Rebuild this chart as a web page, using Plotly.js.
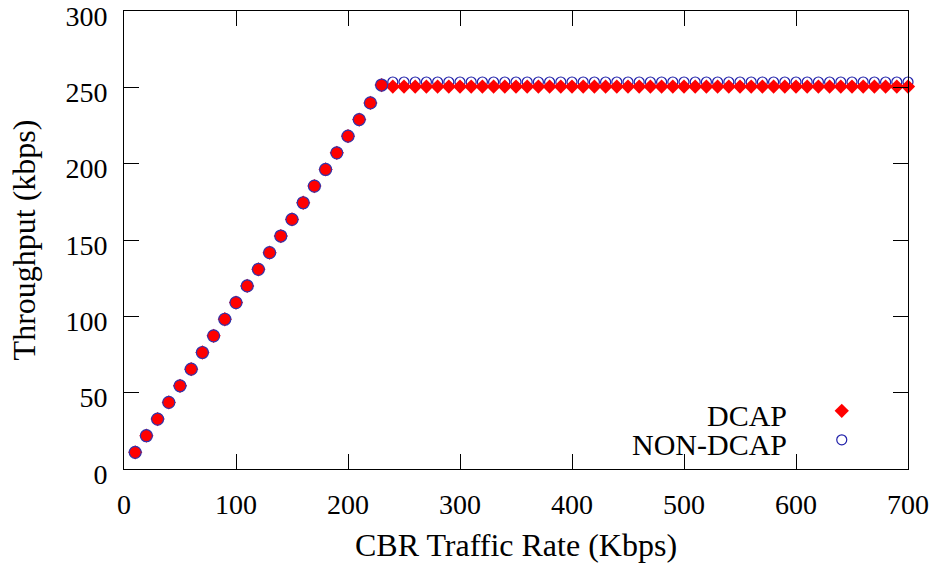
<!DOCTYPE html>
<html>
<head>
<meta charset="utf-8">
<script src="https://cdn.plot.ly/plotly-3.0.1.min.js"></script>
<style>html,body{margin:0;padding:0;background:#fff;}#chart{width:936px;height:565px;}</style>
</head>
<body>
<div id="chart"></div>
<script>
// CBR traffic rate (Kbps)
const rate = [10,20,30,40,50,60,70,80,90,100,110,120,130,140,150,160,170,180,190,200,210,220,230,
  240,250,260,270,280,290,300,310,320,330,340,350,360,370,380,390,400,410,420,430,440,450,460,470,
  480,490,500,510,520,530,540,550,560,570,580,590,600,610,620,630,640,650,660,670,680,690,700];
// Throughput (kbps)
const dcap = [10.9,21.8,32.7,43.6,54.5,65.4,76.3,87.2,98.1,109.0,119.9,130.8,141.7,152.6,163.5,174.4,185.3,196.2,207.1,218.0,228.9,239.8,251.5,
  250.5,250.5,250.5,250.5,250.5,250.5,250.5,250.5,250.5,250.5,250.5,250.5,250.5,250.5,250.5,250.5,250.5,250.5,250.5,250.5,250.5,250.5,250.5,250.5,
  250.5,250.5,250.5,250.5,250.5,250.5,250.5,250.5,250.5,250.5,250.5,250.5,250.5,250.5,250.5,250.5,250.5,250.5,250.5,250.5,250.5,250.5,250.5];
const nonDcap = [10.9,21.8,32.7,43.6,54.5,65.4,76.3,87.2,98.1,109.0,119.9,130.8,141.7,152.6,163.5,174.4,185.3,196.2,207.1,218.0,228.9,239.8,251.5,
  253.5,253.5,253.5,253.5,253.5,253.5,253.5,253.5,253.5,253.5,253.5,253.5,253.5,253.5,253.5,253.5,253.5,253.5,253.5,253.5,253.5,253.5,253.5,253.5,
  253.5,253.5,253.5,253.5,253.5,253.5,253.5,253.5,253.5,253.5,253.5,253.5,253.5,253.5,253.5,253.5,253.5,253.5,253.5,253.5,253.5,253.5,253.5];
const seriesNames = ['DCAP', 'NON-DCAP'];
const xTicks = [0,100,200,300,400,500,600,700];
const yTicks = [0,50,100,150,200,250,300];

// points where both series coincide (drawn as a combined marker)
const sameX = [], sameY = [];
rate.forEach((r, i) => { if (dcap[i] === nonDcap[i]) { sameX.push(r); sameY.push(dcap[i]); } });

const FONT = "'Liberation Serif', 'Times New Roman', serif";

const traces = [
  { x: rate, y: nonDcap, type: 'scatter', mode: 'markers', name: ' ', cliponaxis: false,
    marker: { symbol: 'circle-open', size: 10, color: '#2222aa', line: { width: 1.2, color: '#2222aa' } } },
  { x: rate, y: dcap, type: 'scatter', mode: 'markers', name: ' ', cliponaxis: false,
    marker: { symbol: 'diamond', size: 11, color: '#ff0000', line: { width: 0 } } },
  { x: sameX, y: sameY, type: 'scatter', mode: 'markers', showlegend: false, cliponaxis: false,
    marker: { symbol: 'circle', size: 12, color: '#ff0000', line: { width: 1.2, color: '#3333aa' } } }
];

const axisCommon = {
  showgrid: false, zeroline: false, showline: true, linecolor: '#000', linewidth: 1,
  mirror: 'allticks', ticks: 'inside', ticklen: 15, tickwidth: 1, tickcolor: '#000',
  ticklabeloverflow: 'allow',
  tickfont: { family: FONT, size: 28, color: '#000' }
};

const layout = {
  width: 936, height: 565,
  margin: { l: 124, r: 28, t: 11, b: 96 },
  paper_bgcolor: '#fff', plot_bgcolor: '#fff',
  font: { family: FONT, color: '#000' },
  xaxis: Object.assign({}, axisCommon, {
    range: [0, 700], tickvals: xTicks, ticktext: xTicks.map(String), ticklabelstandoff: 10,
    title: { text: 'CBR Traffic Rate (Kbps)', font: { family: FONT, size: 32, color: '#000' }, standoff: 15 }
  }),
  yaxis: Object.assign({}, axisCommon, {
    range: [0, 300], tickvals: yTicks, ticktext: yTicks.map(String), ticklabelstandoff: 10, ticklabelshift: 5,
    title: { text: 'Throughput (kbps)', font: { family: FONT, size: 32, color: '#000' }, standoff: 20 }
  }),
  showlegend: true,
  legend: { x: 0.89, xanchor: 'left', y: 0.1696, yanchor: 'top', traceorder: 'reversed',
    bgcolor: 'rgba(0,0,0,0)', font: { family: FONT, size: 20 }, itemwidth: 30 },
  annotations: [
    { text: seriesNames[0], xref: 'paper', yref: 'paper', x: 0.848, y: 0.116, xanchor: 'right', yanchor: 'middle',
      showarrow: false, font: { family: FONT, size: 30, color: '#000' } },
    { text: seriesNames[1], xref: 'paper', yref: 'paper', x: 0.848, y: 0.0525, xanchor: 'right', yanchor: 'middle',
      showarrow: false, font: { family: FONT, size: 30, color: '#000' } }
  ]
};

Plotly.newPlot('chart', traces, layout, { displayModeBar: false, staticPlot: true });
</script>
</body>
</html>
